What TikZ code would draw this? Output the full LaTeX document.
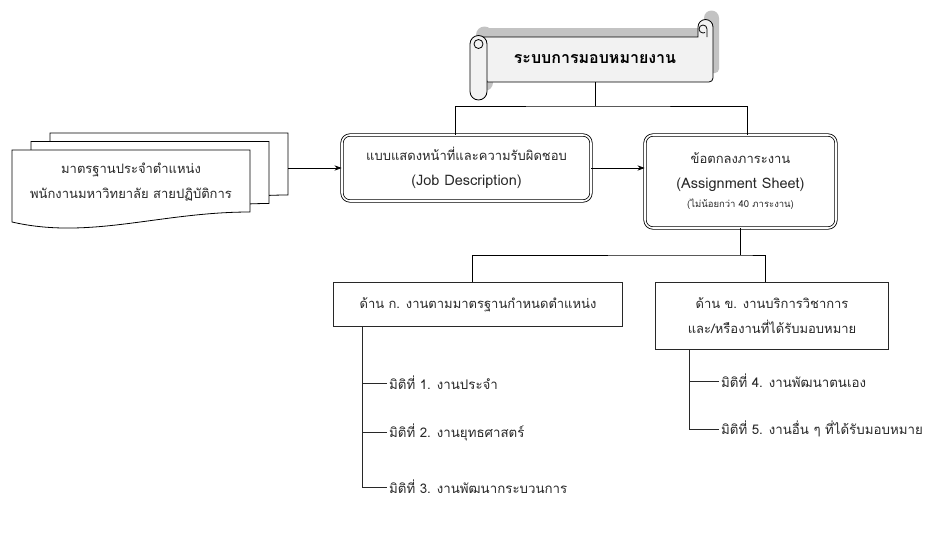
\documentclass[tikz,border=0pt]{standalone}
\usepackage{fontspec}
\setmainfont[Script=Thai]{Loma}
\usetikzlibrary{arrows.meta, positioning, calc}
\definecolor{cInk}{RGB}{40,40,40}
\definecolor{cScroll}{RGB}{242,242,242}
\definecolor{cShade}{RGB}{195,195,195}
\newcommand{\latinpart}[1]{{\fontsize{14.5}{25}\selectfont #1}}
\tikzset{
	dblbox/.style  ={rectangle, rounded corners=8pt, draw=black, double, double distance=1.6pt, line width=0.8pt, align=center, fill=white, text=cInk},
	sidebox/.style ={rectangle, draw=cInk, line width=0.8pt, align=center, fill=white, text=cInk},
	dimtext/.style ={anchor=west, inner sep=2pt, text=cInk, font=\fontsize{13.3}{25}\selectfont},
	sig/.style     ={-{Stealth[length=2.5mm]}, thick},
	tie/.style     ={thick},
	treeline/.style={draw=cInk, line width=0.7pt},
}

\begin{document}
\begin{tikzpicture}[x=1pt, y=-1pt, font=\fontsize{13}{25}\selectfont]
	\useasboundingbox (0,0) rectangle (927,533);
	% scroll banner
	\begin{scope}[shift={(6,-9)}]
		\fill[cShade] (478,37) -- (698,37) -- (698,27) arc[start angle=180, end angle=360, radius=7.5] -- (713,78) arc[start angle=0, end angle=90, radius=4] -- (487,82) -- cycle;
		\fill[cShade] (470,44) arc[start angle=180, end angle=360, radius=8.5] -- (487,91.5) arc[start angle=0, end angle=180, radius=8.5] -- cycle;
	\end{scope}
	\draw[fill=cScroll, line width=0.8pt] (478,37) -- (698,37) -- (698,27) arc[start angle=180, end angle=360, radius=7.5] -- (713,78) arc[start angle=0, end angle=90, radius=4] -- (487,82) -- cycle;
	\draw[line width=0.8pt] (707,37) -- (707,29) arc[start angle=0, end angle=-300, radius=4];
	\draw[fill=cScroll, line width=0.8pt] (470,44) arc[start angle=180, end angle=360, radius=8.5] -- (487,91.5) arc[start angle=0, end angle=180, radius=8.5] -- cycle;
	\draw[line width=0.8pt] (478.5,44) circle[radius=4.5];
	\node[font=\fontsize{16}{18}\selectfont\bfseries, minimum width=220pt, minimum height=45pt] (scroll) at (595,59.5) {ระบบการมอบหมายงาน};

	% stacked documents
	\foreach \s in {2,1,0}
		\draw[fill=white, line width=0.8pt, shift={(19*\s,-8.5*\s)}] (12,150) -- (250,150) -- (250,212) .. controls (160,212) and (90,240) .. (12,222) -- cycle;
	\node[align=center, text=cInk] (std) at (131,182) {มาตรฐานประจำตำแหน่ง\\พนักงานมหาวิทยาลัย สายปฏิบัติการ};
	\coordinate (stdR) at (288,168);

	\node[dblbox, minimum width=249pt, minimum height=66pt] (job) at (466.5,168) {แบบแสดงหน้าที่และความรับผิดชอบ\\\latinpart{(Job Description)}};
	\node[dblbox, minimum width=191pt, minimum height=93pt] (asg) at (740.5,181.5) {ข้อตกลงภาระงาน\\\latinpart{(Assignment Sheet)}\\[-6pt]{\fontsize{9.5}{12}\selectfont (ไม่น้อยกว่า 40 ภาระงาน)}};

	\coordinate (split) at (595,106);
	\draw[tie] (scroll.south) -- (split);
	\draw[tie] ([xshift=-11pt]job.north) |- (split) -| ([xshift=7pt]asg.north);
	\draw[sig] (stdR) -- (job.west);
	\draw[sig] (job.east) -- (job.east -| asg.west);

	% two sides
	\node[sidebox, minimum width=289pt, minimum height=44pt] (sideA) at (478,304.5) {ด้าน ก. งานตามมาตรฐานกำหนดตำแหน่ง};
	\node[sidebox, minimum width=233pt, minimum height=67pt] (sideB) at (772,316) {ด้าน ข. งานบริการวิชาการ\\และ/หรืองานที่ได้รับมอบหมาย};
	\coordinate (fork) at (740.5,255);
	\draw[tie] (asg.south) -- (fork);
	\draw[tie] ([xshift=-6pt]sideA.north) |- (fork) -| ([xshift=-7pt]sideB.north);

	% dimensions
	\node[dimtext] (d1) at (387,383) {มิติที่ 1. งานประจำ};
	\node[dimtext] (d2) at (387,432) {มิติที่ 2. งานยุทธศาสตร์};
	\node[dimtext] (d3) at (387,487) {มิติที่ 3. งานพัฒนากระบวนการ};
	\node[dimtext] (d4) at (719,381) {มิติที่ 4. งานพัฒนาตนเอง};
	\node[dimtext] (d5) at (719,429) {มิติที่ 5. งานอื่น ๆ ที่ได้รับมอบหมาย};
	\coordinate (trunkA) at ([xshift=29pt]sideA.south west);
	\coordinate (trunkB) at ([xshift=34pt]sideB.south west);
	\draw[treeline] (trunkA) |- (d3.west);
	\foreach \d in {d1,d2}
		\draw[treeline] (\d.west) -- (\d.west -| trunkA);
	\draw[treeline] (trunkB) |- (d5.west);
	\draw[treeline] (d4.west) -- (d4.west -| trunkB);
\end{tikzpicture}
\end{document}
